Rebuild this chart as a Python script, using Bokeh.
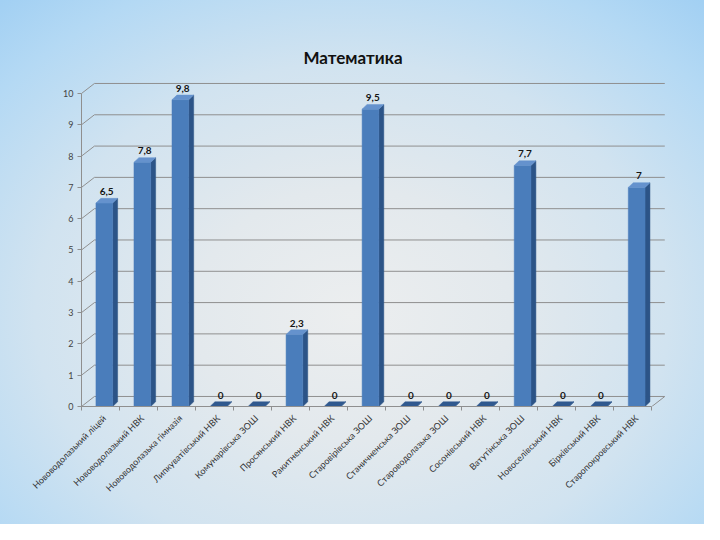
import numpy as np
from bokeh.plotting import figure
from bokeh.models import ColumnDataSource, Range1d, FixedTicker
from bokeh.embed import file_html
from bokeh.resources import INLINE
from bokeh.core.properties import value

# ---- data ----
schools = [
    "Нововодолазький ліцей", "Нововодолазький НВК", "Нововодолазька гімназія",
    "Липкуватівський НВК", "Комунарівська ЗОШ", "Просянський НВК",
    "Ракитненський НВК", "Старовірівська ЗОШ", "Станичненська ЗОШ",
    "Староводолазька ЗОШ", "Сосонівський НВК", "Ватутінська ЗОШ",
    "Новоселівський НВК", "Бірківський НВК", "Старопокровський НВК",
]
scores = [6.5, 7.8, 9.8, 0, 0, 2.3, 0, 9.5, 0, 0, 0, 7.7, 0, 0, 7]
y_ticks = [0, 1, 2, 3, 4, 5, 6, 7, 8, 9, 10]
title_text = "Математика"

# ---- geometry / style constants ----
FONT = "Lato"
X_LEFT, X_FLOOR_END = -0.6, 14.4
DX, DY = 0.34, 0.32          # depth of chart walls (data units)
BW, BDX, BDY = 0.44, 0.13, 0.15  # bar width and bar depth
FRONT, SIDE, TOP, TOP0 = "#4a7dbb", "#2c5487", "#6592cd", "#30598f"
GRID = "#8f8f8f"

xs = list(range(len(schools)))
labels = [f"{v:g}".replace(".", ",") for v in scores]

p = figure(width=704, height=524,
           x_range=Range1d(X_LEFT, 14.89), y_range=Range1d(0, 10.575),
           output_backend="svg", toolbar_location=None,
           min_border_left=81, min_border_right=34,
           min_border_top=75, min_border_bottom=118)
p.background_fill_color = None
p.border_fill_color = None
p.outline_line_color = None
p.styles = {"background": "radial-gradient(ellipse 75% 80% at 50% 60%, #eceeef 0%, #e3e9ed 30%, #d1e3f0 60%, #b4d9f4 85%, #a2d0f3 100%)"}
p.xgrid.visible = False
p.ygrid.visible = False

# title
p.title.text = title_text
p.title.text_font = FONT
p.title.text_font_size = "17px"
p.title.text_font_style = "bold"
p.title.text_color = "#111111"
p.title.align = "left"
p.title.offset = 222
p.title.standoff = 15

# walls: left side diagonals and back gridlines
n = len(y_ticks)
p.segment(x0=[X_LEFT] * n, y0=y_ticks, x1=[X_LEFT + DX] * n,
          y1=[t + DY for t in y_ticks], line_color=GRID, line_width=1)
p.segment(x0=[X_LEFT + DX] * n, y0=[t + DY for t in y_ticks],
          x1=[X_FLOOR_END + DX] * n, y1=[t + DY for t in y_ticks],
          line_color=GRID, line_width=1)
p.segment(x0=[X_FLOOR_END], y0=[0], x1=[X_FLOOR_END + DX], y1=[DY],
          line_color=GRID, line_width=1)

# bars
side_xs, side_ys, top_xs, top_ys, top_cols = [], [], [], [], []
for x, v in zip(xs, scores):
    r = x + BW / 2
    l = x - BW / 2
    side_xs.append([r, r + BDX, r + BDX, r])
    side_ys.append([0, BDY, v + BDY, v])
    top_xs.append([l, r, r + BDX, l + BDX])
    top_ys.append([v, v, v + BDY, v + BDY])
    top_cols.append(TOP if v > 0 else TOP0)

p.patches(xs=side_xs, ys=side_ys, fill_color=SIDE, line_color=SIDE, line_width=0.5)
p.vbar(x=xs, top=scores, bottom=0, width=BW, fill_color=FRONT, line_color=FRONT, line_width=0.5)
src_top = ColumnDataSource(dict(xs=top_xs, ys=top_ys, c=top_cols))
p.patches(xs="xs", ys="ys", fill_color="c", line_color="c", line_width=0.5, source=src_top)

# value labels
p.text(x=[x + 0.06 for x in xs], y=scores, text=labels, y_offset=-8,
       text_align="center", text_baseline="bottom",
       text_font=value(FONT), text_font_style="bold",
       text_font_size="10px", text_color="#151515")

# axes
xa = p.xaxis[0]
xa.ticker = FixedTicker(ticks=xs, minor_ticks=[i + 0.4 for i in range(-1, len(xs))])
xa.major_label_overrides = {i: s for i, s in zip(xs, schools)}
xa.major_label_orientation = np.pi / 4
xa.major_tick_out = 0
xa.major_tick_in = 0
xa.minor_tick_out = 4
xa.minor_tick_in = 0
xa.minor_tick_line_color = GRID
xa.axis_line_color = GRID
xa.bounds = (X_LEFT, X_FLOOR_END)
xa.major_label_text_font = FONT
xa.major_label_text_font_size = "9px"
xa.major_label_text_color = "#333333"
xa.major_label_standoff = 6

ya = p.yaxis[0]
ya.ticker = FixedTicker(ticks=y_ticks, minor_ticks=[])
ya.bounds = (0, 10)
ya.major_tick_out = 4
ya.major_tick_in = 0
ya.major_tick_line_color = GRID
ya.axis_line_color = GRID
ya.major_label_text_font = FONT
ya.major_label_text_font_size = "9px"
ya.major_label_text_color = "#444444"
ya.major_label_standoff = 4

open("out.html", "w").write(file_html(p, INLINE))
